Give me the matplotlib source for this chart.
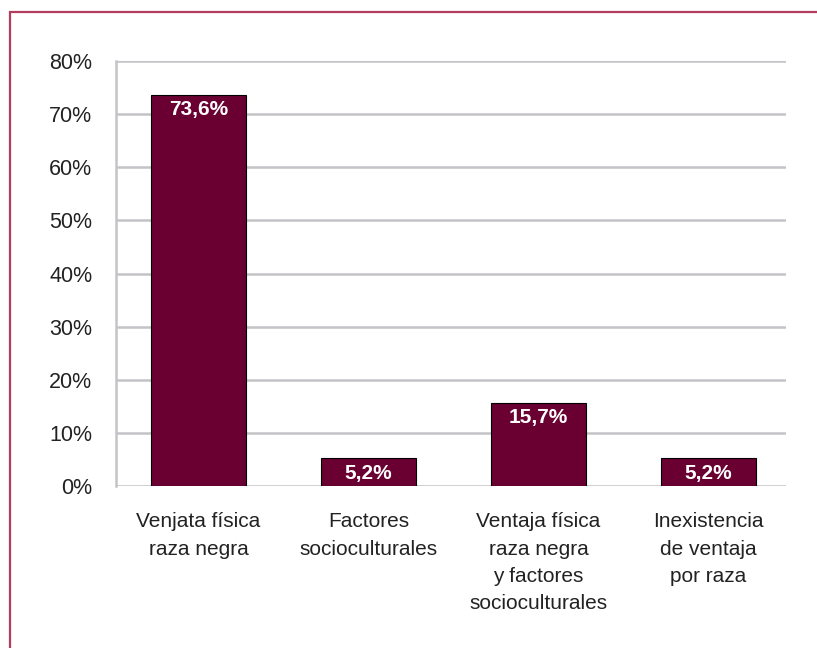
import numpy as np
import matplotlib.pyplot as plt
from matplotlib.patches import Rectangle
from matplotlib.ticker import FuncFormatter

categories = ["Venjata física\nraza negra", "Factores\nsocioculturales",
              "Ventaja física\nraza negra\ny factores\nsocioculturales",
              "Inexistencia\nde ventaja\npor raza"]
values = [73.6, 5.2, 15.7, 5.2]
value_labels = ["73,6%", "5,2%", "15,7%", "5,2%"]

plt.rcParams['font.family'] = ['Liberation Sans', 'DejaVu Sans']

W, H = 817, 648
fig = plt.figure(figsize=(W / 100, H / 100), dpi=100)

# outer frame (runs off the right and bottom edges)
fig.patches.append(Rectangle((10 / W, -0.1), 1.2, (H - 12) / H + 0.1,
                             transform=fig.transFigure, fill=False,
                             edgecolor='#b23d5c', linewidth=1.6))

ax = fig.add_axes([116 / W, (H - 486) / H, (786 - 116) / W, (486 - 61) / H])
x = np.arange(len(values))
ax.bar(x, values, width=0.56, color='#6a0032', edgecolor='black', linewidth=0.8, zorder=3)

for xi, v, lab in zip(x, values, value_labels):
    ax.text(xi, v - 1.0, lab, ha='center', va='top', color='white',
            fontsize=15, fontweight='bold', zorder=4)

ax.set_ylim(0, 80)
ax.set_xlim(-0.485, 3.456)
ax.set_yticks(np.arange(0, 81, 10))
ax.yaxis.set_major_formatter(FuncFormatter(lambda v, p: f"{int(v)}%"))
ax.grid(axis='y', color='#c4c4c8', linewidth=1.8, zorder=0)
ax.set_axisbelow(True)
for s in ['top', 'right', 'bottom']:
    ax.spines[s].set_visible(False)
ax.spines['left'].set_color('#c4c4c8')
ax.spines['left'].set_linewidth(1.8)
ax.tick_params(axis='y', length=0, labelsize=15.5, colors='#222222', pad=17)
ax.tick_params(axis='x', length=0, labelsize=15, colors='#222222', pad=19)
ax.set_xticks(x)
ax.set_xticklabels(categories, linespacing=1.55)

fig.savefig('out.png', dpi=100)
